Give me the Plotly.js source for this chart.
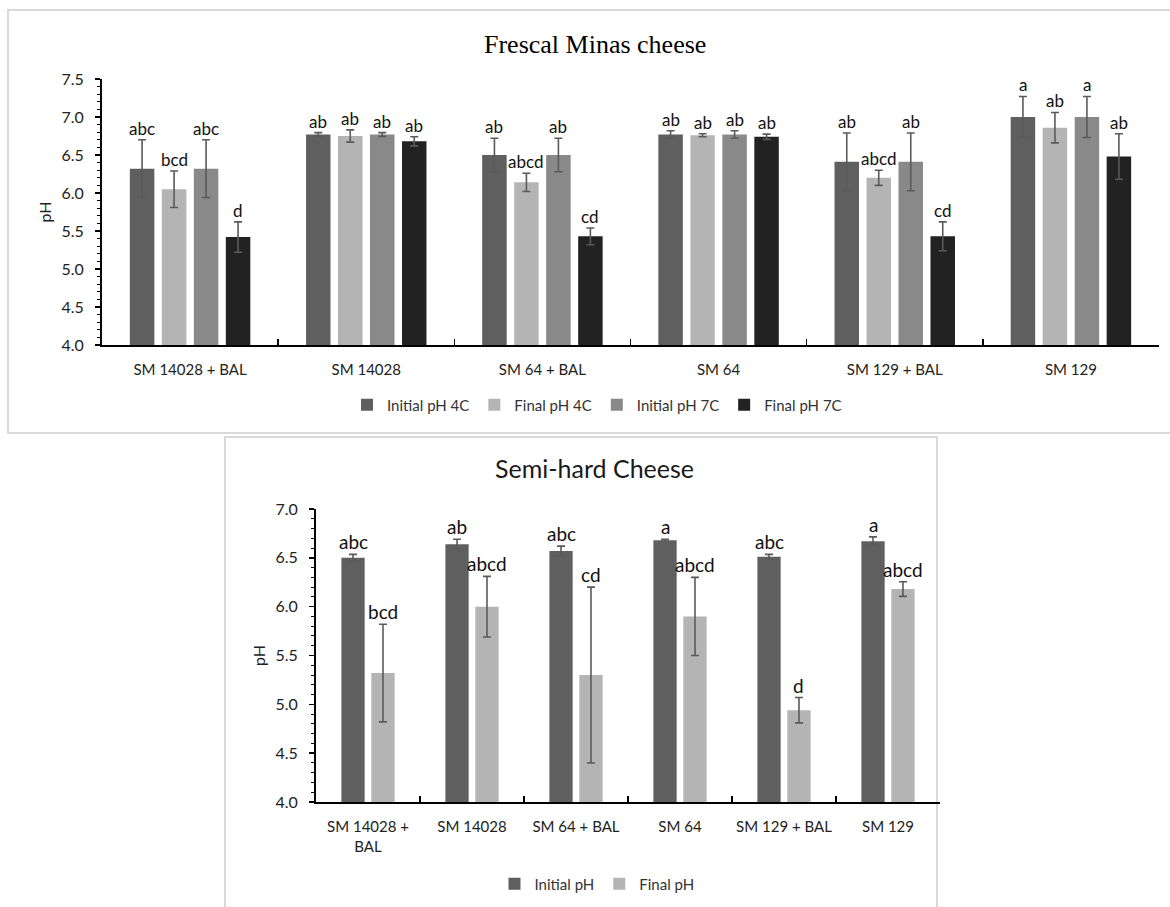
<!DOCTYPE html>
<html>
<head>
<meta charset="utf-8">
<script src="https://cdn.plot.ly/plotly-3.0.1.min.js"></script>
<style>
html,body{margin:0;padding:0;background:#fff;}
#chart{width:1170px;height:907px;}
</style>
</head>
<body>
<div id="chart"></div>
<script>
// ---------- DATA: Frescal Minas cheese ----------
const categoriesTop = ["SM 14028 + BAL", "SM 14028", "SM 64 + BAL", "SM 64", "SM 129 + BAL", "SM 129"];
const seriesTop = ["Initial pH 4C", "Final pH 4C", "Initial pH 7C", "Final pH 7C"];
const initialPH4C    = [6.32, 6.77, 6.50, 6.77, 6.41, 7.00];
const initialPH4CErr = [0.38, 0.025, 0.22, 0.05, 0.38, 0.27];
const finalPH4C      = [6.05, 6.75, 6.14, 6.76, 6.20, 6.86];
const finalPH4CErr   = [0.24, 0.08, 0.12, 0.02, 0.10, 0.20];
const initialPH7C    = [6.32, 6.77, 6.50, 6.77, 6.41, 7.00];
const initialPH7CErr = [0.38, 0.025, 0.22, 0.05, 0.38, 0.27];
const finalPH7C      = [5.42, 6.68, 5.43, 6.74, 5.43, 6.48];
const finalPH7CErr   = [0.20, 0.06, 0.11, 0.035, 0.19, 0.30];
const lettersInitial4C = ["abc", "ab", "ab", "ab", "ab", "a"];
const lettersFinal4C   = ["bcd", "ab", "abcd", "ab", "abcd", "ab"];
const lettersInitial7C = ["abc", "ab", "ab", "ab", "ab", "a"];
const lettersFinal7C   = ["d", "ab", "cd", "ab", "cd", "ab"];
const yTicksTop = [4.0, 4.5, 5.0, 5.5, 6.0, 6.5, 7.0, 7.5];

// ---------- DATA: Semi-hard Cheese ----------
const categoriesBottom = ["SM 14028 + BAL", "SM 14028", "SM 64 + BAL", "SM 64", "SM 129 + BAL", "SM 129"];
const tickTextBottom = ["SM 14028 +<br>BAL", "SM 14028", "SM 64 + BAL", "SM 64", "SM 129 + BAL", "SM 129"];
const seriesBottom = ["Initial pH", "Final pH"];
const initialPH    = [6.50, 6.64, 6.57, 6.68, 6.51, 6.67];
const initialPHErr = [0.035, 0.05, 0.05, 0.01, 0.025, 0.045];
const finalPH      = [5.32, 6.00, 5.30, 5.90, 4.94, 6.18];
const finalPHErr   = [0.50, 0.31, 0.90, 0.40, 0.13, 0.075];
const lettersInitial = ["abc", "ab", "abc", "a", "abc", "a"];
const lettersFinal   = ["bcd", "abcd", "cd", "abcd", "d", "abcd"];
const yTicksBottom = [4.0, 4.5, 5.0, 5.5, 6.0, 6.5, 7.0];

// ---------- STYLE ----------
const W = 1170, H = 907;
const px = x => x / W;
const py = y => 1 - y / H;
const FONT = "Lato, 'Open Sans', sans-serif";
const colorsTop = ["#5f5f5f", "#b4b4b4", "#898989", "#222222"];
const colorsBottom = ["#5f5f5f", "#b4b4b4"];
const errColor = "#5a5a5a";

const slotTop = 0.1816, barWTop = 0.139;
const slotBot = 0.288, barWBot = 0.224;

const topVals = [initialPH4C, finalPH4C, initialPH7C, finalPH7C];
const topErrs = [initialPH4CErr, finalPH4CErr, initialPH7CErr, finalPH7CErr];
const topLetters = [lettersInitial4C, lettersFinal4C, lettersInitial7C, lettersFinal7C];
const botVals = [initialPH, finalPH];
const botErrs = [initialPHErr, finalPHErr];
const botLetters = [lettersInitial, lettersFinal];

const traces = [];
const annotations = [];

function addGroup(cats, names, vals, errs, letters, colors, slot, bw, xa, ya, leg, letterSize) {
  const n = names.length;
  for (let k = 0; k < n; k++) {
    const off = -n * slot / 2 + k * slot + (slot - bw) / 2;
    traces.push({
      type: "bar", name: names[k], x: cats, y: vals[k],
      xaxis: xa, yaxis: ya, legend: leg,
      width: bw, offset: off,
      marker: {color: colors[k], line: {width: 0}},
      error_y: {type: "data", array: errs[k], visible: true, color: errColor, thickness: 1.6, width: 4},
      hoverinfo: "x+y+name"
    });
    for (let i = 0; i < cats.length; i++) {
      annotations.push({
        xref: xa, yref: ya, x: i + off + bw / 2, y: vals[k][i] + errs[k][i],
        text: letters[k][i], showarrow: false, xanchor: "center", yanchor: "bottom",
        font: {family: FONT, size: letterSize, color: "#111"}, borderpad: 0
      });
    }
  }
}

addGroup(categoriesTop, seriesTop, topVals, topErrs, topLetters, colorsTop, slotTop, barWTop, "x", "y", "legend", 17);
addGroup(categoriesBottom, seriesBottom, botVals, botErrs, botLetters, colorsBottom, slotBot, barWBot, "x2", "y2", "legend2", 19);

// chart titles
annotations.push({
  xref: "paper", yref: "paper", x: px(595), y: py(44), xanchor: "center", yanchor: "middle",
  text: "Frescal Minas cheese", showarrow: false,
  font: {family: "'Liberation Serif', 'Times New Roman', serif", size: 26, color: "#000"}
});
annotations.push({
  xref: "paper", yref: "paper", x: px(594), y: py(468), xanchor: "center", yanchor: "middle",
  text: "Semi-hard Cheese", showarrow: false,
  font: {family: FONT, size: 25, color: "#1a1a1a"}
});

const tickFont = {family: FONT, size: 15, color: "#222"};
const baseX = {
  type: "category", showline: true, linecolor: "#000", linewidth: 2,
  ticks: "inside", tickson: "boundaries", ticklen: 6, tickwidth: 1.5, tickcolor: "#000",
  tickangle: 0,
  showgrid: false, zeroline: false, tickfont: tickFont, ticklabelstandoff: 10, fixedrange: true
};
const baseY = {
  showline: true, linecolor: "#000", linewidth: 2,
  ticks: "outside", ticklen: 5, tickwidth: 1.5, tickcolor: "#000",
  minor: {dtick: 0.1, ticks: "outside", ticklen: 3, tickwidth: 1, tickcolor: "#000"},
  tickmode: "array", tickformat: ".1f",
  showgrid: false, zeroline: false, tickfont: {family: FONT, size: 16, color: "#222"},
  ticklabelstandoff: 8, fixedrange: true
};

const layout = {
  width: W, height: H, autosize: false,
  margin: {l: 0, r: 0, t: 0, b: 0, pad: 0},
  paper_bgcolor: "#fff", plot_bgcolor: "#fff",
  barmode: "group",
  showlegend: true,
  xaxis: Object.assign({}, baseX, {domain: [px(102), px(1159)], anchor: "y"}),
  yaxis: Object.assign({}, baseY, {
    domain: [py(345), py(79)], anchor: "x", range: [4, 7.5], tickvals: yTicksTop,
    title: {text: "pH", font: {family: FONT, size: 16, color: "#222"}, standoff: 6}
  }),
  xaxis2: Object.assign({}, baseX, {
    domain: [px(316), px(940)], anchor: "y2", tickmode: "array",
    tickvals: categoriesBottom, ticktext: tickTextBottom
  }),
  yaxis2: Object.assign({}, baseY, {
    domain: [py(802), py(509)], anchor: "x2", range: [4, 7.0], tickvals: yTicksBottom,
    title: {text: "pH", font: {family: FONT, size: 16, color: "#222"}, standoff: 6}
  }),
  legend: {
    orientation: "h", x: px(597), xanchor: "center", y: py(405), yanchor: "middle",
    font: {family: FONT, size: 15, color: "#333"}, itemwidth: 30, bgcolor: "rgba(0,0,0,0)",
    traceorder: "normal"
  },
  legend2: {
    orientation: "h", x: px(597), xanchor: "center", y: py(884), yanchor: "middle",
    font: {family: FONT, size: 15, color: "#333"}, itemwidth: 30, bgcolor: "rgba(0,0,0,0)",
    traceorder: "normal"
  },
  annotations: annotations,
  shapes: [
    {type: "rect", xref: "paper", yref: "paper", x0: px(8), y0: py(433), x1: px(1171), y1: py(10),
     line: {color: "#d9d9d9", width: 2}, fillcolor: "rgba(0,0,0,0)", layer: "below"},
    {type: "rect", xref: "paper", yref: "paper", x0: px(225), y0: py(912), x1: px(937), y1: py(437),
     line: {color: "#d9d9d9", width: 2}, fillcolor: "rgba(0,0,0,0)", layer: "below"}
  ]
};

Plotly.newPlot("chart", traces, layout, {displayModeBar: false, staticPlot: true});
</script>
</body>
</html>
